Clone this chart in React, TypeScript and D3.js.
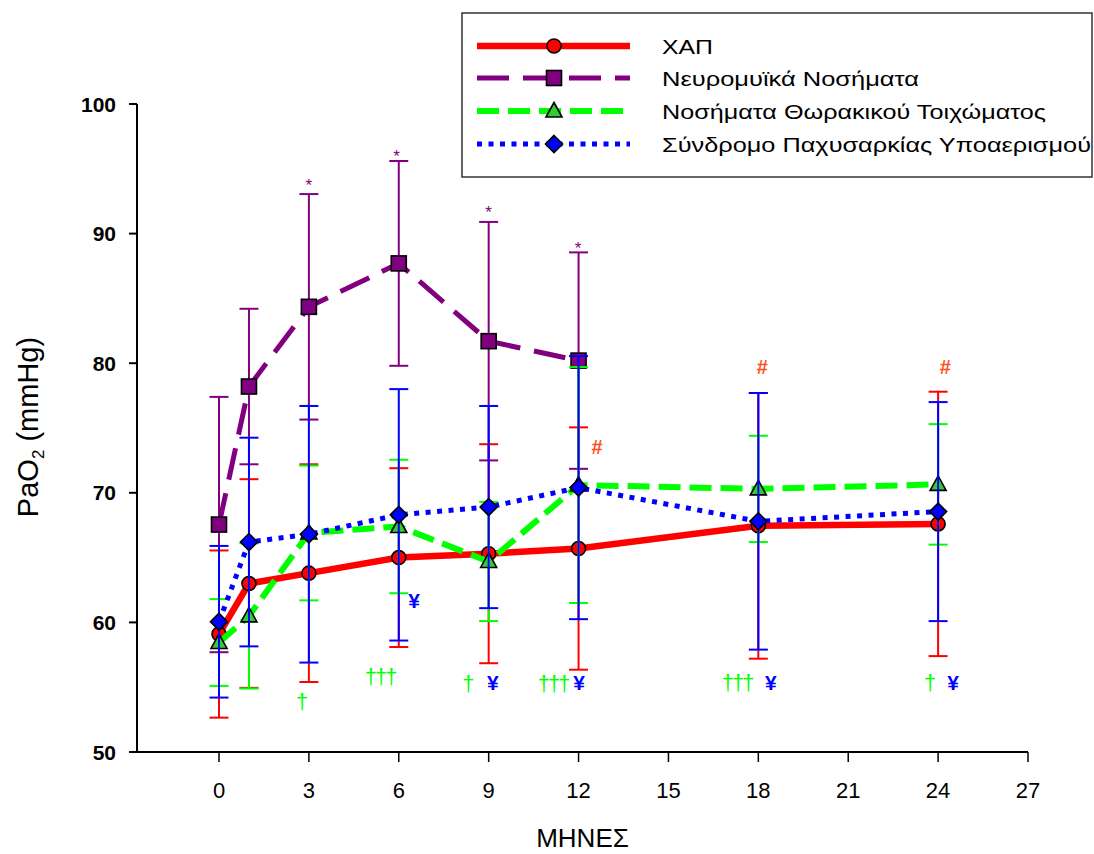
import React from 'react';
import * as d3 from 'd3';

// ---------- data ----------
const months = [0, 1, 3, 6, 9, 12, 18, 24];
const neuroMonths = [0, 1, 3, 6, 9, 12];

const seriesNames = [
  'ΧΑΠ',
  'Νευρομυϊκά Νοσήματα',
  'Νοσήματα Θωρακικού Τοιχώματος',
  'Σύνδρομο Παχυσαρκίας Υποαερισμού',
];

const copdMean = [59.1, 63.0, 63.8, 65.0, 65.3, 65.7, 67.45, 67.6];
const copdSD = [6.45, 8.05, 8.4, 6.9, 8.45, 9.35, 10.25, 10.2];

const neuroMean = [67.55, 78.2, 84.35, 87.7, 81.7, 80.2];
const neuroSD = [9.85, 6.0, 8.7, 7.9, 9.2, 8.35];

const chestMean = [58.45, 60.5, 66.9, 67.4, 64.7, 70.6, 70.3, 70.65];
const chestSD = [3.35, 5.6, 5.2, 5.15, 4.6, 9.1, 4.1, 4.65];

const ohsMean = [60.05, 66.2, 66.8, 68.3, 68.9, 70.4, 67.8, 68.55];
const ohsSD = [5.85, 8.05, 9.9, 9.7, 7.8, 10.15, 9.9, 8.45];

const xTicks = [0, 3, 6, 9, 12, 15, 18, 21, 24, 27];
const yTicks = [50, 60, 70, 80, 90, 100];
const xTitle = 'ΜΗΝΕΣ';

// significance marks: [month position, value, text]
const starMarks: [number, number, string][] = [
  [3.0, 94.1, '*'],
  [5.93, 96.3, '*'],
  [9.0, 92.0, '*'],
  [11.98, 89.2, '*'],
];
const hashMarks: [number, number, string][] = [
  [12.62, 73.5, '#'],
  [18.13, 79.7, '#'],
  [24.24, 79.7, '#'],
];
const daggerMarks: [number, number, string][] = [
  [2.74, 53.9, '†'],
  [5.38, 55.8, '†††'],
  [8.29, 55.25, '†'],
  [11.15, 55.25, '†††'],
  [17.29, 55.35, '†††'],
  [23.7, 55.35, '†'],
];
const yenMarks: [number, number, string][] = [
  [6.51, 61.67, '¥'],
  [9.14, 55.4, '¥'],
  [12.02, 55.4, '¥'],
  [18.42, 55.4, '¥'],
  [24.5, 55.4, '¥'],
];

// ---------- layout / style ----------
const W = 1094;
const H = 854;
const AX_X = 137;
const X0 = 219;
const X27 = 1028;
const Y_TOP = 104;
const Y_BOT = 752;
const FONT = '"Liberation Sans", Arial, sans-serif';
const NARROW = '"Liberation Sans Narrow", "Liberation Sans", Arial, sans-serif';

const RED = '#ff0000';
const PURPLE = '#800080';
const GREEN = '#00ff00';
const GREEN_MARK = '#33cc33';
const BLUE = '#0000ff';
const HASH = '#ff5020';

type Marker = 'circle' | 'square' | 'triangle' | 'diamond';

interface Series {
  name: string;
  x: number[];
  mean: number[];
  sd: number[];
  color: string;
  markFill: string;
  width: number;
  dash: string | undefined;
  marker: Marker;
}

const series: Series[] = [
  { name: seriesNames[0], x: months, mean: copdMean, sd: copdSD, color: RED, markFill: RED, width: 6.5, dash: undefined, marker: 'circle' },
  { name: seriesNames[1], x: neuroMonths, mean: neuroMean, sd: neuroSD, color: PURPLE, markFill: PURPLE, width: 5, dash: '32 14', marker: 'square' },
  { name: seriesNames[2], x: months, mean: chestMean, sd: chestSD, color: GREEN, markFill: GREEN_MARK, width: 6, dash: '22 9', marker: 'triangle' },
  { name: seriesNames[3], x: months, mean: ohsMean, sd: ohsSD, color: BLUE, markFill: BLUE, width: 5, dash: '5 6.5', marker: 'diamond' },
];

const legendTextLen = [51, 257, 384, 429];
const legendRows = [46, 78, 111, 144];

function MarkerShape({ type, cx, cy, fill }: { type: Marker; cx: number; cy: number; fill: string }) {
  const common = { fill, stroke: '#000', strokeWidth: 1.6 };
  if (type === 'circle') return <circle cx={cx} cy={cy} r={7} {...common} />;
  if (type === 'square') return <rect x={cx - 7.5} y={cy - 7.5} width={15} height={15} {...common} />;
  if (type === 'triangle')
    return <path d={`M${cx},${cy - 8.5}L${cx + 8},${cy + 6}L${cx - 8},${cy + 6}Z`} {...common} />;
  return <path d={`M${cx},${cy - 8.5}L${cx + 8.5},${cy}L${cx},${cy + 8.5}L${cx - 8.5},${cy}Z`} {...common} />;
}

export default function App() {
  const x = d3.scaleLinear().domain([0, 27]).range([X0, X27]);
  const y = d3.scaleLinear().domain([50, 100]).range([Y_BOT, Y_TOP]);
  const line = (s: Series) =>
    d3
      .line<number>()
      .x((_, i) => x(s.x[i]))
      .y((d) => y(d))(s.mean) || '';

  const cap = 9.5;

  const marks = (arr: [number, number, string][], color: string, size: number, key: string, extra?: any) =>
    arr.map(([m, v, t], i) => (
      <text
        key={key + i}
        x={x(m)}
        y={y(v)}
        fill={color}
        fontSize={size}
        fontFamily={FONT}
        textAnchor="middle"
        dominantBaseline="central"
        {...extra}
      >
        {t}
      </text>
    ));

  return (
    <svg
      width={W}
      height={H}
      viewBox={`0 0 ${W} ${H}`}
      style={{ position: 'absolute', left: 0, top: 0, background: '#fff' }}
    >
      <rect x={0} y={0} width={W} height={H} fill="#fff" />

      {/* axes */}
      <line x1={AX_X} x2={AX_X} y1={Y_TOP} y2={Y_BOT} stroke="#000" strokeWidth={2} />
      <line x1={AX_X} x2={x(27)} y1={Y_BOT} y2={Y_BOT} stroke="#000" strokeWidth={2} />
      {yTicks.map((t) => (
        <g key={'yt' + t}>
          <line x1={AX_X - 8} x2={AX_X} y1={y(t)} y2={y(t)} stroke="#000" strokeWidth={2} />
          <text
            x={AX_X - 21}
            y={y(t)}
            textAnchor="end"
            dominantBaseline="central"
            fontFamily={FONT}
            fontWeight="bold"
            fontSize={21}
          >
            {t}
          </text>
        </g>
      ))}
      {xTicks.map((t) => (
        <g key={'xt' + t}>
          <line x1={x(t)} x2={x(t)} y1={Y_BOT} y2={Y_BOT + 10} stroke="#000" strokeWidth={1.5} />
          <text x={x(t)} y={790} textAnchor="middle" dominantBaseline="central" fontFamily={NARROW} fontSize={22}>
            {t}
          </text>
        </g>
      ))}
      <text
        x={(AX_X + x(27)) / 2}
        y={838}
        textAnchor="middle"
        dominantBaseline="central"
        fontFamily={NARROW}
        fontSize={26}
      >
        {xTitle}
      </text>
      <text
        transform={`translate(38, 427) rotate(-90)`}
        textAnchor="middle"
        fontFamily={FONT}
        fontSize={29}
      >
        PaO<tspan fontSize={17} dy={6}>2</tspan>
        <tspan dy={-6}> (mmHg)</tspan>
      </text>

      {/* series */}
      {series.map((s, si) => (
        <g key={'s' + si}>
          {s.x.map((m, i) => {
            const cx = x(m);
            const hi = y(s.mean[i] + s.sd[i]);
            const lo = y(s.mean[i] - s.sd[i]);
            return (
              <g key={'eb' + i} stroke={s.color} strokeWidth={2}>
                <line x1={cx} x2={cx} y1={hi} y2={lo} />
                <line x1={cx - cap} x2={cx + cap} y1={hi} y2={hi} />
                <line x1={cx - cap} x2={cx + cap} y1={lo} y2={lo} />
              </g>
            );
          })}
          <path d={line(s)} fill="none" stroke={s.color} strokeWidth={s.width} strokeDasharray={s.dash} />
          {s.x.map((m, i) => (
            <MarkerShape key={'mk' + i} type={s.marker} cx={x(m)} cy={y(s.mean[i])} fill={s.markFill} />
          ))}
        </g>
      ))}

      {/* significance marks */}
      {marks(starMarks, PURPLE, 17, 'st', { dy: 5 })}
      {marks(hashMarks, HASH, 20, 'h', { fontWeight: 'bold' })}
      {marks(daggerMarks, GREEN, 22, 'd', { letterSpacing: -2 })}
      {marks(yenMarks, BLUE, 21, 'y', { fontWeight: 'bold' })}

      {/* legend */}
      <rect x={462} y={13} width={630} height={164} fill="#fff" stroke="#333" strokeWidth={1.5} />
      {series.map((s, i) => (
        <g key={'lg' + i}>
          <line
            x1={477}
            x2={630}
            y1={legendRows[i]}
            y2={legendRows[i]}
            stroke={s.color}
            strokeWidth={s.width}
            strokeDasharray={s.dash}
          />
          <MarkerShape type={s.marker} cx={554} cy={legendRows[i]} fill={s.markFill} />
          <text
            x={662}
            y={legendRows[i]}
            dominantBaseline="central"
            fontFamily={FONT}
            fontSize={21}
            textLength={legendTextLen[i]}
            lengthAdjust="spacingAndGlyphs"
          >
            {s.name}
          </text>
        </g>
      ))}
    </svg>
  );
}
